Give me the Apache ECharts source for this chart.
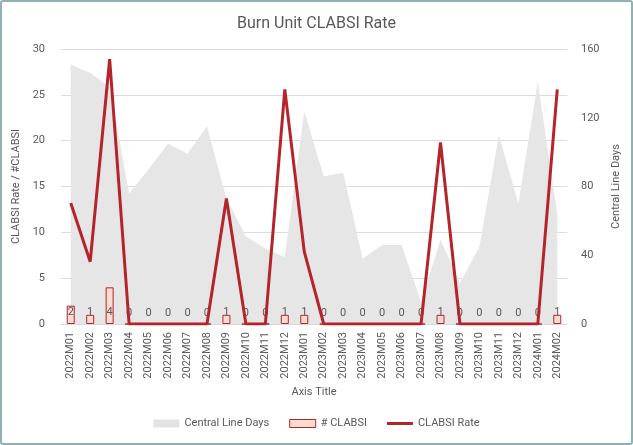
<!DOCTYPE html>
<html>
<head>
<meta charset="utf-8">
<script src="https://cdn.jsdelivr.net/npm/echarts@6/dist/echarts.min.js"></script>
<style>
  html, body { margin: 0; padding: 0; background: #fff; }
  #chart {
    width: 633px; height: 445px; box-sizing: border-box;
    border: 2px solid #8fb1b3; border-radius: 3px;
  }
</style>
</head>
<body>
<div id="chart"></div>
<script>
const months = [
  "2022M01", "2022M02", "2022M03", "2022M04", "2022M05", "2022M06", "2022M07",
  "2022M08", "2022M09", "2022M10", "2022M11", "2022M12", "2023M01", "2023M02",
  "2023M03", "2023M04", "2023M05", "2023M06", "2023M07", "2023M08", "2023M09",
  "2023M10", "2023M11", "2023M12", "2024M01", "2024M02",
]
const lineDays = [151, 146, 138, 76, 90, 105, 99, 115, 73, 51, 44, 39, 124, 86,
  88, 38, 46, 46, 13, 49, 24, 45, 110, 70, 141, 64]
const clabsiCount = [2, 1, 4, 0, 0, 0, 0, 0, 1, 0, 0, 1, 1, 0, 0, 0, 0, 0, 0, 1, 0, 0, 0, 0, 0, 1]
const clabsiRate = [13.2, 6.8, 28.9, 0, 0, 0, 0, 0, 13.7, 0, 0, 25.6, 7.9, 0, 0, 0, 0, 0, 0, 19.8, 0, 0, 0, 0, 0, 25.6]

const FONT = 'Roboto, "Liberation Sans", Arial, sans-serif'
const TEXT = "#595959"
const RED = "#b5242b"

const chart = echarts.init(document.getElementById("chart"))
chart.setOption({
  textStyle: { fontFamily: FONT },
  title: {
    text: "Burn Unit CLABSI Rate",
    left: "center",
    top: 9,
    textStyle: { fontSize: 16, fontWeight: "normal", color: TEXT, fontFamily: FONT },
  },
  legend: {
    bottom: 9,
    left: "center",
    itemGap: 20,
    itemWidth: 26,
    itemHeight: 8,
    textStyle: { color: TEXT, fontSize: 11, fontFamily: FONT },
    data: [
      { name: "Central Line Days", icon: "rect", itemStyle: { color: "#e3e3e3" } },
      { name: "# CLABSI", icon: "rect", itemStyle: { color: "#fbdcd2", borderColor: RED, borderWidth: 1 } },
      { name: "CLABSI Rate", icon: "path://M0,0 L26,0 L26,3 L0,3 Z", itemStyle: { color: RED } },
    ],
  },
  grid: { left: 59, right: 64, top: 47, bottom: 119 },
  xAxis: {
    type: "category",
    data: months,
    name: "Axis Title",
    nameLocation: "middle",
    nameGap: 55,
    nameTextStyle: { color: TEXT, fontSize: 11, fontFamily: FONT },
    axisLine: { lineStyle: { color: "#d9d9d9" } },
    axisTick: { show: false },
    axisLabel: { rotate: 90, color: TEXT, fontSize: 11, margin: 8, interval: 0, fontFamily: FONT },
  },
  yAxis: [
    {
      type: "value",
      min: 0, max: 30, interval: 5,
      name: "CLABSI Rate / #CLABSI",
      nameLocation: "middle",
      nameGap: 35,
      nameTextStyle: { color: TEXT, fontSize: 11, fontFamily: FONT },
      axisLabel: { color: TEXT, fontSize: 11, margin: 16, fontFamily: FONT },
      splitLine: { lineStyle: { color: "#dcdcdc" } },
    },
    {
      type: "value",
      min: 0, max: 160, interval: 40,
      name: "Central Line Days",
      nameLocation: "middle",
      nameGap: 36,
      nameTextStyle: { color: TEXT, fontSize: 11, fontFamily: FONT },
      axisLabel: { color: TEXT, fontSize: 11, margin: 14, fontFamily: FONT },
      splitLine: { show: false },
    },
  ],
  series: [
    {
      name: "Central Line Days",
      type: "line",
      yAxisIndex: 1,
      data: lineDays,
      symbol: "none",
      lineStyle: { width: 0 },
      itemStyle: { color: "#e3e3e3" },
      areaStyle: { color: "#e6e6e6", opacity: 1 },
      z: 1,
    },
    {
      name: "# CLABSI",
      type: "bar",
      yAxisIndex: 0,
      data: clabsiCount,
      barWidth: 8,
      itemStyle: { color: "#fbdcd2", borderColor: RED, borderWidth: 1 },
      label: {
        show: true,
        position: "insideBottom",
        distance: 6,
        color: TEXT,
        fontSize: 11,
        fontFamily: FONT,
      },
      z: 2,
    },
    {
      name: "CLABSI Rate",
      type: "line",
      yAxisIndex: 0,
      data: clabsiRate,
      symbol: "none",
      lineStyle: { color: RED, width: 3 },
      itemStyle: { color: RED },
      z: 3,
    },
  ],
})
</script>
</body>
</html>
